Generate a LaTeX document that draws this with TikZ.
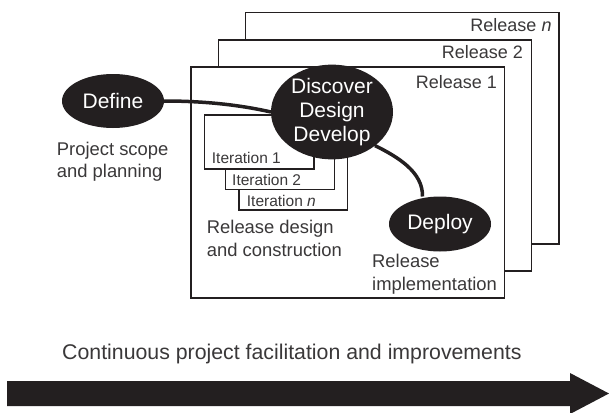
\documentclass[tikz,border=0pt]{standalone}
\usepackage{fontspec}
\setmainfont{Liberation Sans}
\usetikzlibrary{shapes.geometric}
\definecolor{ink}{HTML}{231F20}
\definecolor{txt}{HTML}{3A3839}
\tikzset{
  x=1pt,y=-1pt,
  boxshape/.style={draw=ink,line width=1.1pt,fill=white,inner sep=0pt,outer sep=0pt},
  blob/.style={ellipse,fill=ink,text=white,inner sep=0pt,outer sep=0pt,align=center,font=\fontsize{21}{23.7}\selectfont},
  lbl/.style={anchor=base west,inner sep=0pt,text=txt,align=left,font=\fontsize{18.4}{22.3}\selectfont},
  rel/.style={anchor=base east,inner sep=0pt,text=txt,font=\fontsize{18}{22}\selectfont},
  iter/.style={anchor=base west,inner sep=0pt,text=txt,font=\fontsize{15.5}{18}\selectfont},
  link/.style={draw=ink,line width=3.5pt},
}
\begin{document}
\begin{tikzpicture}
\useasboundingbox (0,0) rectangle (609,412);
\fill[white] (0,0) rectangle (609,412);
% release frames
\node[boxshape,minimum width=313.3pt,minimum height=231.3pt] (reln) at (402.35,128.35) {};
\node[boxshape,minimum width=313.4pt,minimum height=231pt] (rel2) at (375,155.5) {};
\node[boxshape,minimum width=313.3pt,minimum height=231pt] (rel1) at (347.65,182.5) {};
\node[rel] (tn) at (551.7,32) {Release \textit{n}};
\node[rel] (t2) at (523,59) {Release 2};
\node[rel] (t1) at (497,88) {Release 1};
% iteration frames
\node[boxshape,minimum width=108.7pt,minimum height=70pt] (itn) at (293.35,175) {};
\node[boxshape,minimum width=109pt,minimum height=50pt] (it2) at (279.8,164.7) {};
\node[boxshape,minimum width=109.3pt,minimum height=54pt] (it1) at (259.35,142) {};
\node[iter] (ti1) at (211.7,163) {Iteration 1};
\node[iter] (ti2) at (232,185) {Iteration 2};
\node[iter] (tin) at (246.7,206.7) {Iteration \textit{n}};
% phases
\node[blob,minimum width=122pt,minimum height=88pt] (disc) at (332,112) {Discover\\Design\\Develop};
\node[blob,minimum width=102pt,minimum height=54pt] (define) at (113,101) {Define};
\node[blob,minimum width=102pt,minimum height=55pt] (deploy) at (440,224) {Deploy};
\draw[link] (define.east) .. controls (205,101) and (240,105) .. (disc.west);
\draw[link] (disc.-38) .. controls (398,157) and (423,172) .. (deploy.north -| 422.5,197);
% captions
\node[lbl] (scope) at (56.7,177.5) {Project scope\\and planning};
\node[lbl] (build) at (206.7,256) {Release design\\and construction};
\node[lbl] (impl) at (372,290) {Release\\implementation};
\node[lbl,font=\fontsize{21.3}{24}\selectfont] (cont) at (62,359) {Continuous project facilitation and improvements};
% timeline arrow
\fill[ink] (7,381) -- (570,381) -- (570,373) -- (609,393.5) -- (570,414) -- (570,406) -- (7,406) -- cycle;
\end{tikzpicture}
\end{document}
